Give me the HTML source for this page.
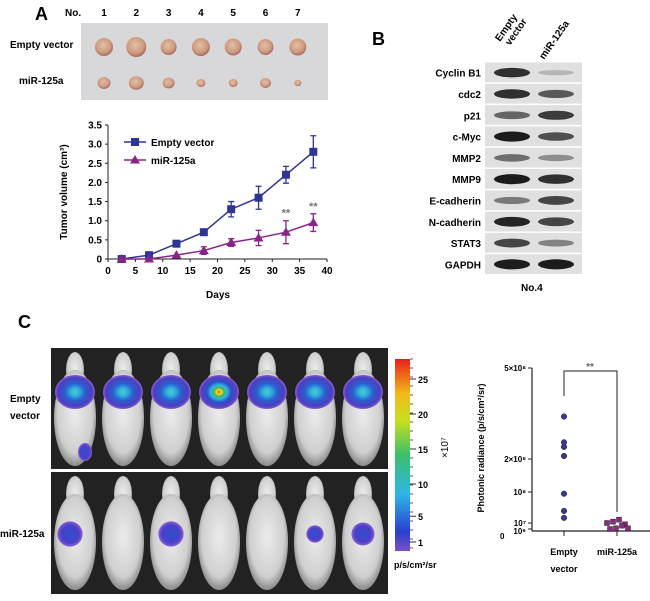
<!DOCTYPE html>
<html><head><meta charset="utf-8"><style>
body{margin:0;background:#fff;}
svg{display:block;font-family:"Liberation Sans",Arial,sans-serif;font-weight:bold;}
</style></head><body>
<svg id="fig" width="650" height="601" viewBox="0 0 650 601">
<defs>
<radialGradient id="lum" cx="50%" cy="50%" r="50%">
<stop offset="0" stop-color="#e8332a"/><stop offset="0.12" stop-color="#f4e21a"/><stop offset="0.25" stop-color="#49b84a"/><stop offset="0.4" stop-color="#2fb7e5"/><stop offset="0.62" stop-color="#2a4fc8"/><stop offset="0.88" stop-color="#5a3fc0"/><stop offset="1" stop-color="#8a5fd0"/></radialGradient>
<radialGradient id="lum2" cx="50%" cy="50%" r="50%">
<stop offset="0" stop-color="#5ec9a0"/><stop offset="0.2" stop-color="#2fb7e5"/><stop offset="0.5" stop-color="#2a5fd0"/><stop offset="0.85" stop-color="#4a3fc0"/><stop offset="1" stop-color="#8a5fd0"/></radialGradient>
<radialGradient id="lum3" cx="50%" cy="50%" r="50%">
<stop offset="0" stop-color="#2f4fd0"/><stop offset="0.7" stop-color="#4a3fc8"/><stop offset="1" stop-color="#8a5fd0"/></radialGradient>
<linearGradient id="cbar" x1="0" y1="1" x2="0" y2="0">
<stop offset="0" stop-color="#7a4fc8"/><stop offset="0.1" stop-color="#2a3fd0"/><stop offset="0.3" stop-color="#2fb7e5"/><stop offset="0.5" stop-color="#3bbf6a"/><stop offset="0.68" stop-color="#c8e020"/><stop offset="0.82" stop-color="#f3b81a"/><stop offset="1" stop-color="#e8201a"/></linearGradient>
<radialGradient id="mouse" cx="50%" cy="45%" r="55%"><stop offset="0" stop-color="#ececec"/><stop offset="0.75" stop-color="#cfcfcf"/><stop offset="1" stop-color="#8a8a8a"/></radialGradient>
<radialGradient id="tumor" cx="45%" cy="40%" r="60%"><stop offset="0" stop-color="#e2c0a6"/><stop offset="0.7" stop-color="#cc9a80"/><stop offset="1" stop-color="#a8665a"/></radialGradient>
</defs>

<text x="35" y="20" font-size="18">A</text>
<text x="65" y="16" font-size="10">No.</text>
<g id="tumors"></g>
<text x="10" y="48" font-size="10">Empty vector</text>
<text x="19" y="84" font-size="10">miR-125a</text>

<g id="linechart"></g>

<text x="372" y="45" font-size="18">B</text>
<g id="blot"></g>
<text x="500" y="42" font-size="10" transform="rotate(-55 500 42)">Empty</text>
<text x="510" y="46" font-size="10" transform="rotate(-55 510 46)">vector</text>
<text x="544" y="60" font-size="10" transform="rotate(-55 544 60)">miR-125a</text>
<text x="521" y="291" font-size="10">No.4</text>

<text x="18" y="328" font-size="18">C</text>
<g id="imaging"></g>
<text x="10" y="402" font-size="10">Empty</text>
<text x="10" y="419" font-size="10">vector</text>
<text x="0" y="537" font-size="10">miR-125a</text>
<rect x="395" y="359" width="15" height="192" fill="url(#cbar)"/>
<g id="cbticks"></g>
<text x="448" y="458" font-size="10" font-weight="normal" transform="rotate(-90 448 458)">×10⁷</text>
<text x="394" y="568" font-size="9">p/s/cm²/sr</text>

<g id="scatter"></g>
</svg>
<script>
const NS="http://www.w3.org/2000/svg";
function mk(tag,attrs,parent,text){const e=document.createElementNS(NS,tag);for(const k in attrs)e.setAttribute(k,attrs[k]);if(text!==undefined)e.textContent=text;parent.appendChild(e);return e;}

const tumorNos=["1","2","3","4","5","6","7"];
const tumorSizeEmpty=[9,10,8,9,8.5,8,8.5];
const tumorSizeMir=[6.5,7.5,6,4.5,4.5,5.5,3.5];
(function(){
const g=document.getElementById('tumors');
const bg=mk('rect',{x:81,y:23,width:247,height:77,fill:'#d8d8da'},g);


tumorNos.forEach((n,i)=>{
 const x=104+i*32.3;
 const t=mk('text',{x:x,y:16,'font-size':10,'text-anchor':'middle'},g,n);
 
 
 const a=mk('ellipse',{cx:x,cy:47,rx:tumorSizeEmpty[i],ry:tumorSizeEmpty[i]*1.0,fill:'url(#tumor)'},g);
 
 
 const b=mk('ellipse',{cx:x,cy:83,rx:tumorSizeMir[i],ry:tumorSizeMir[i]*0.9,fill:'url(#tumor)'},g);
 
 
});
})();

const days=[2.5,7.5,12.5,17.5,22.5,27.5,32.5,37.5];
const emptyVol=[0,0.1,0.4,0.7,1.3,1.6,2.2,2.8];
const emptyErr=[0,0,0,0,0.2,0.3,0.22,0.42];
const mirVol=[0,0,0.1,0.22,0.43,0.55,0.7,0.95];
const mirErr=[0,0,0,0.1,0.1,0.2,0.3,0.23];
const xTicks=[0,5,10,15,20,25,30,35,40];
const yTicks=[0,0.5,1.0,1.5,2.0,2.5,3.0,3.5];
const yTickLabels=["0","0.5","1.0","1.5","2.0","2.5","3.0","3.5"];
const sigDays=[32.5,37.5];
(function(){
const g=document.getElementById('linechart');
const X=v=>108+v/40*219, Y=v=>259-v/3.5*134;
let ax=mk('line',{x1:108,y1:Y(3.5),x2:108,y2:259,stroke:'#222','stroke-width':1},g);

ax=mk('line',{x1:108,y1:259,x2:X(40),y2:259,stroke:'#222','stroke-width':1},g);

yTicks.forEach((v,i)=>{mk('line',{x1:105,x2:108,y1:Y(v),y2:Y(v),stroke:'#222'},g);
 const t=mk('text',{x:102,y:Y(v)+3.5,'font-size':10,'text-anchor':'end'},g,yTickLabels[i]);
 });
xTicks.forEach(v=>{mk('line',{x1:X(v),x2:X(v),y1:259,y2:262,stroke:'#222'},g);
 const t=mk('text',{x:X(v),y:274,'font-size':10,'text-anchor':'middle'},g,String(v));
 });
let t=mk('text',{x:218,y:298,'font-size':10,'text-anchor':'middle'},g,'Days');

t=mk('text',{x:0,y:0,'font-size':10,'text-anchor':'middle',transform:'translate(67,192) rotate(-90)'},g,'Tumor volume (cm³)');

function series(vals,errs,col,shape,name){
 const pl=mk('polyline',{points:days.map((d,i)=>X(d)+','+Y(vals[i])).join(' '),fill:'none',stroke:col,'stroke-width':1.5},g);
 
 days.forEach((d,i)=>{
  if(errs[i]>0){const e=mk('path',{d:`M${X(d)},${Y(vals[i]+errs[i])}V${Y(vals[i]-errs[i])}M${X(d)-3},${Y(vals[i]+errs[i])}h6M${X(d)-3},${Y(vals[i]-errs[i])}h6`,stroke:col,'stroke-width':1.3,fill:'none'},g);
   }
  let m;
  if(shape==='sq')m=mk('rect',{x:X(d)-4,y:Y(vals[i])-4,width:8,height:8,fill:col},g);
  else m=mk('path',{d:`M${X(d)},${Y(vals[i])-5}l5,8.5h-10z`,fill:col},g);
  
 });
}
series(emptyVol,emptyErr,'#2e3592','sq','empty-vector');
series(mirVol,mirErr,'#8a2486','tri','mir125a');
sigDays.forEach(d=>{const i=days.indexOf(d);const s=mk('text',{x:X(d),y:Y(mirVol[i]+mirErr[i])-4,'font-size':11,fill:'#777','text-anchor':'middle'},g,'**');
 });
let l=mk('line',{x1:124,x2:146,y1:142,y2:142,stroke:'#2e3592','stroke-width':1.5},g);

mk('rect',{x:131,y:138,width:8,height:8,fill:'#2e3592'},g);
t=mk('text',{x:151,y:146,'font-size':10},g,'Empty vector');
l=mk('line',{x1:124,x2:146,y1:160,y2:160,stroke:'#8a2486','stroke-width':1.5},g);

mk('path',{d:'M135,155l5,8.5h-10z',fill:'#8a2486'},g);
t=mk('text',{x:151,y:164,'font-size':10},g,'miR-125a');
})();

const proteins=["Cyclin B1","cdc2","p21","c-Myc","MMP2","MMP9","E-cadherin","N-cadherin","STAT3","GAPDH"];
const bandEmpty=[0.85,0.85,0.6,0.95,0.55,0.95,0.5,0.9,0.75,0.95];
const bandMir=[0.2,0.65,0.8,0.7,0.4,0.85,0.75,0.75,0.45,0.95];
(function(){
const g=document.getElementById('blot');
const h=21.3;
proteins.forEach((p,i)=>{
 const y=62+i*h;
 const r=mk('rect',{x:485,y:y+0.5,width:97,height:h-1.5,fill:'#e0e0e0'},g);
 
 const t=mk('text',{x:481,y:y+h/2+4,'font-size':10,'text-anchor':'end'},g,p);
 
 [[bandEmpty[i],512],[bandMir[i],556]].forEach(([v,cx])=>{
  const b=mk('ellipse',{cx:cx,cy:y+h/2,rx:18,ry:2+v*3.2,fill:'#111','fill-opacity':v},g);
  
 });
});
})();

const sigEmpty=[0.6,0.75,0.55,1.0,0.55,0.6,0.65];
const sigMir=[0.3,0,0.3,0,0,0.12,0.25];
(function(){
const g=document.getElementById('imaging');
const bg=mk('rect',{x:51,y:348,width:337,height:246,fill:'#222'},g);

mk('rect',{x:51,y:469,width:337,height:3,fill:'#fff'},g);
for(let row=0;row<2;row++){
 const top=row?472:348;
 for(let i=0;i<7;i++){
  const cx=75+i*48;
  const m=mk('g',{},g);
  
  mk('ellipse',{cx:cx,cy:top+22,rx:9,ry:18,fill:'url(#mouse)'},m);
  mk('ellipse',{cx:cx,cy:top+70,rx:21,ry:48,fill:'url(#mouse)'},m);
  const v=row?sigMir[i]:sigEmpty[i];
  if(v>0){
   const s=row?mk('ellipse',{cx:cx+(i==0?-5:0),cy:top+62,rx:6+v*22,ry:6+v*22,fill:'url(#lum3)'},g)
             :mk('ellipse',{cx:cx,cy:top+44,rx:20,ry:17,fill:v>0.9?'url(#lum)':'url(#lum2)'},g);
   
  }
 }
}
const sb=mk('ellipse',{cx:85,cy:452,rx:7,ry:9,fill:'url(#lum3)'},g);

const cg=document.getElementById('cbticks');
const cbVals=[1,5,10,15,20,25];
const cbY=v=>v<=10?542-(v-1)/9*58:484-(v-10)/15*105;
for(let k=0;k<22;k++){mk('line',{x1:410,x2:413,y1:359+k*9,y2:359+k*9,stroke:'#333','stroke-width':0.8},cg);}
cbVals.forEach(v=>{mk('line',{x1:410,x2:416,y1:cbY(v),y2:cbY(v),stroke:'#333'},cg);
 const t=mk('text',{x:418,y:cbY(v)+4,'font-size':9},cg,String(v));
 });
})();

const groups=["Empty","miR-125a"];
const emptyRad=[3.4e8,2.55e8,2.4e8,2.1e8,0.95e8,4.5e7,2.5e7];
const mirRad=[4e6,6e6,9e6,2e6,1e6,2e6,6e6,2e6];
const scTickVals=[0,1e6,1e7,1e8,2e8,5e8];
const scTickLabels=["0","10⁶","10⁷","10⁸","2×10⁸","5×10⁸"];
(function(){
const g=document.getElementById('scatter');
const dom=[0,1e6,1e7,1e8,2e8,5e8], rng=[531,529,523,492,459,368];
const Y=v=>{for(let k=1;k<dom.length;k++){if(v<=dom[k])return rng[k-1]+(v-dom[k-1])/(dom[k]-dom[k-1])*(rng[k]-rng[k-1]);}return rng[rng.length-1];};
let a=mk('line',{x1:532,x2:532,y1:368,y2:531,stroke:'#222','stroke-width':1.2},g);

a=mk('line',{x1:532,x2:650,y1:531,y2:531,stroke:'#222','stroke-width':1.2},g);

scTickVals.forEach((v,i)=>{ if(i>0)mk('line',{x1:528,x2:532,y1:Y(v),y2:Y(v),stroke:'#222'},g);
 const t=mk('text',{x:i==0?500:526,y:(i==0?539:Y(v)+(i==1?5:3)),'font-size':8,'text-anchor':i==0?'start':'end'},g,scTickLabels[i]);
 });
const gx=[564,617];
gx.forEach(x=>mk('line',{x1:x,x2:x,y1:531,y2:536,stroke:'#222'},g));
let t=mk('text',{x:564,y:555,'font-size':9,'text-anchor':'middle'},g,'Empty');
t=mk('text',{x:564,y:572,'font-size':9,'text-anchor':'middle'},g,'vector');
t=mk('text',{x:617,y:555,'font-size':9,'text-anchor':'middle'},g,groups[1]);
t=mk('text',{x:0,y:0,'font-size':9,'text-anchor':'middle',transform:'translate(484,448) rotate(-90)'},g,'Photonic radiance (p/s/cm²/sr)');

emptyRad.forEach(v=>{const c=mk('circle',{cx:564,cy:Y(v),r:2.8,fill:'#3a3a8c',stroke:'#222','stroke-width':0.5},g);
 });
mirRad.forEach((v,i)=>{const x=607+(i%4)*6+(i>=4?3:0);const c=mk('rect',{x:x-2.5,y:Y(v)-2.5-(i>=4?0:4),width:5,height:5,fill:'#8a2a80',stroke:'#222','stroke-width':0.5},g);
 });
const br=mk('path',{d:'M564,396V371H617V512',stroke:'#222',fill:'none','stroke-width':1},g);

t=mk('text',{x:590,y:370,'font-size':10,fill:'#666','text-anchor':'middle'},g,'**');

})();
</script>
</body></html>
